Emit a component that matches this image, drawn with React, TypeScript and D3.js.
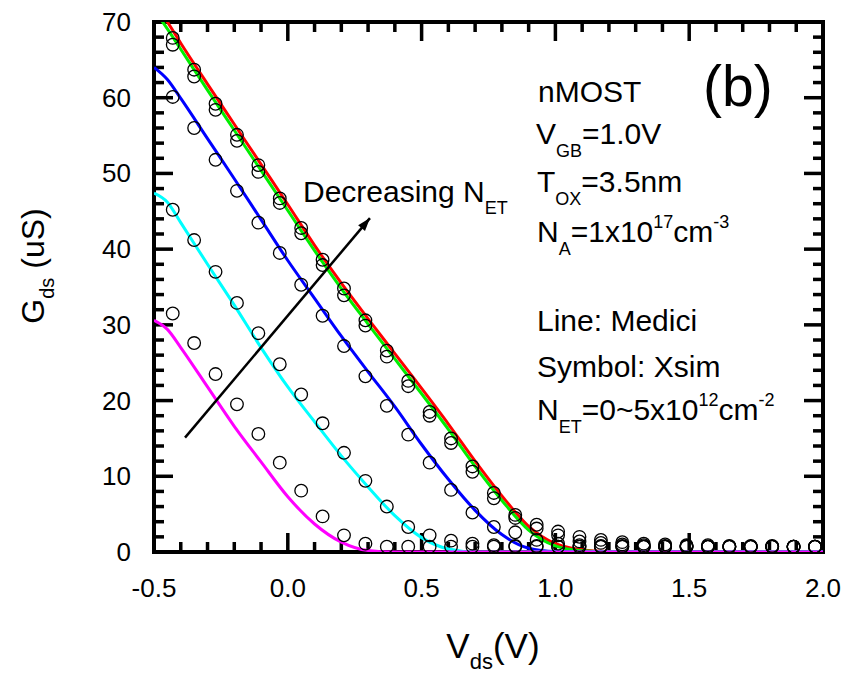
import React from "react";
import * as d3 from "d3";

// ---- data ----
const lineV = [-0.5, -0.45, -0.4, -0.3, -0.2, -0.1, 0.0, 0.1, 0.2, 0.3, 0.4, 0.5, 0.6, 0.7, 0.8, 0.9, 1.0, 1.1, 1.2, 1.3, 2.0];
const mediciRed = [72.5, 70.0, 67.2, 61.8, 56.5, 51.2, 45.9, 40.5, 35.5, 30.8, 26.2, 21.6, 16.9, 12.0, 7.4, 3.4, 1.1, 0.3, 0.05, 0, 0];
const mediciGreen = [71.6, 69.1, 66.4, 61.0, 55.7, 50.4, 45.1, 39.8, 34.8, 30.1, 25.5, 20.9, 16.2, 11.3, 6.8, 2.9, 0.8, 0.15, 0.02, 0, 0];
const mediciBlue = [64.0, 62.4, 59.9, 54.6, 49.3, 43.9, 38.5, 33.5, 28.5, 23.8, 19.2, 14.2, 9.6, 5.5, 2.3, 0.5, 0.05, 0, 0, 0, 0];
const mediciCyan = [47.4, 46.2, 43.5, 38.0, 32.6, 27.0, 21.8, 17.2, 12.7, 8.6, 4.8, 1.9, 0.4, 0, 0, 0, 0, 0, 0, 0, 0];
const mediciMagenta = [30.6, 29.4, 27.0, 21.8, 16.6, 11.9, 7.3, 3.7, 1.3, 0.2, 0, 0, 0, 0, 0, 0, 0, 0, 0, 0, 0];

const xsimV = [-0.43, -0.35, -0.27, -0.19, -0.11, -0.03, 0.05, 0.13, 0.21, 0.29, 0.37, 0.45, 0.53, 0.61, 0.69, 0.77, 0.85, 0.93, 1.01, 1.09, 1.17, 1.25, 1.33, 1.41, 1.49, 1.57, 1.65, 1.73, 1.81, 1.89, 1.97];
const xsimA = [67.9, 63.7, 59.2, 55.1, 51.1, 46.7, 42.8, 38.6, 34.8, 30.6, 26.6, 22.6, 18.5, 15.0, 11.3, 7.8, 4.9, 3.6, 2.7, 2.0, 1.6, 1.3, 1.1, 1.0, 0.9, 0.9, 0.8, 0.8, 0.8, 0.7, 0.7];
const xsimB = [67.0, 62.8, 58.4, 54.3, 50.2, 46.1, 42.1, 37.9, 33.9, 29.9, 25.8, 21.9, 18.0, 14.4, 10.6, 7.1, 4.5, 3.1, 2.2, 1.4, 1.2, 1.0, 0.9, 0.8, 0.8, 0.7, 0.7, 0.7, 0.7, 0.7, 0.7];
const xsimC = [60.1, 56.0, 51.8, 47.7, 43.5, 39.5, 35.3, 31.2, 27.2, 23.2, 19.3, 15.5, 11.8, 8.2, 5.2, 3.3, 2.6, 1.6, 1.1, 0.9, 0.8, 0.8, 0.7, 0.7, 0.7, 0.7, 0.7, 0.7, 0.7, 0.7, 0.7];
const xsimD = [45.2, 41.2, 37.0, 32.9, 28.9, 24.8, 20.8, 17.0, 13.1, 9.4, 6.0, 3.3, 2.2, 1.5, 1.1, 0.9, 0.8, 0.8, 0.7, 0.7, 0.7, 0.7, 0.7, 0.7, 0.7, 0.7, 0.7, 0.7, 0.7, 0.7, 0.7];
const xsimE = [31.5, 27.6, 23.5, 19.5, 15.6, 11.8, 8.1, 4.7, 2.2, 1.1, 0.7, 0.7, 0.7, 0.7, 0.7, 0.7, 0.7, 0.7, 0.7, 0.7, 0.7, 0.7, 0.7, 0.7, 0.7, 0.7, 0.7, 0.7, 0.7, 0.7, 0.7];

const xMajorTicks = [-0.5, 0.0, 0.5, 1.0, 1.5, 2.0];
const xMinorTicks = [-0.4, -0.3, -0.2, -0.1, 0.1, 0.2, 0.3, 0.4, 0.6, 0.7, 0.8, 0.9, 1.1, 1.2, 1.3, 1.4, 1.6, 1.7, 1.8, 1.9];
const xTickLabels = ["-0.5", "0.0", "0.5", "1.0", "1.5", "2.0"];
const yMajorTicks = [0, 10, 20, 30, 40, 50, 60, 70];
const yMinorTicks = [2, 4, 6, 8, 12, 14, 16, 18, 22, 24, 26, 28, 32, 34, 36, 38, 42, 44, 46, 48, 52, 54, 56, 58, 62, 64, 66, 68];

const arrowFrom = [-0.384, 15.1];
const arrowTo = [0.307, 44.1];

const lineColors = ["#ff0000", "#00ee00", "#0000ff", "#00ffff", "#ff00ff"];
const lineSeries = [mediciRed, mediciGreen, mediciBlue, mediciCyan, mediciMagenta];
const xsimSeries = [xsimA, xsimB, xsimC, xsimD, xsimE];

const FONT = "'Liberation Sans', Arial, Helvetica, sans-serif";

export default function App() {
  const x = d3.scaleLinear().domain([-0.5, 2.0]).range([154, 823]);
  const y = d3.scaleLinear().domain([0, 70]).range([552, 22]);
  const X0 = 154, X1 = 823, Y0 = 552, Y1 = 22;
  const MAJ = 19, MIN = 10, TW = 3.5;

  const curve = d3
    .line<number>()
    .x((_, i) => x(lineV[i]))
    .y((d) => y(d))
    .curve(d3.curveMonotoneX);

  return (
    <div style={{ position: "absolute", left: 0, top: 0 }}>
      <svg width={852} height={674} style={{ display: "block", background: "#fff" }}>
        <defs>
          <clipPath id="plotClip">
            <rect x={X0} y={Y1} width={X1 - X0} height={Y0 - Y1} />
          </clipPath>
        </defs>

        {/* frame */}
        <rect x={X0} y={Y1} width={X1 - X0} height={Y0 - Y1} fill="none" stroke="#000" strokeWidth={4} />

        {/* x ticks */}
        {xMajorTicks.map((v) => (
          <rect key={"xb" + v} x={x(v) - TW / 2} y={Y0 - MAJ} width={TW} height={MAJ} fill="#000" />
        ))}
        {xMajorTicks.map((v) => (
          <rect key={"xt" + v} x={x(v) - TW / 2} y={Y1} width={TW} height={MAJ} fill="#000" />
        ))}
        {xMinorTicks.map((v) => (
          <rect key={"xbn" + v} x={x(v) - TW / 2} y={Y0 - MIN} width={TW} height={MIN} fill="#000" />
        ))}
        {xMinorTicks.map((v) => (
          <rect key={"xtn" + v} x={x(v) - TW / 2} y={Y1} width={TW} height={MIN} fill="#000" />
        ))}
        {/* y ticks */}
        {yMajorTicks.map((v) => (
          <rect key={"yl" + v} x={X0} y={y(v) - TW / 2} width={MAJ} height={TW} fill="#000" />
        ))}
        {yMajorTicks.map((v) => (
          <rect key={"yr" + v} x={X1 - MAJ} y={y(v) - TW / 2} width={MAJ} height={TW} fill="#000" />
        ))}
        {yMinorTicks.map((v) => (
          <rect key={"yln" + v} x={X0} y={y(v) - TW / 2} width={MIN} height={TW} fill="#000" />
        ))}
        {yMinorTicks.map((v) => (
          <rect key={"yrn" + v} x={X1 - MIN} y={y(v) - TW / 2} width={MIN} height={TW} fill="#000" />
        ))}

        {/* Medici lines */}
        <g clipPath="url(#plotClip)">
          {lineSeries.map((vals, k) => (
            <path key={"ln" + k} d={curve(vals) || ""} fill="none" stroke={lineColors[k]} strokeWidth={3} />
          ))}
        </g>

        {/* Xsim symbols */}
        {xsimSeries.map((vals, k) =>
          vals.map((g, i) => (
            <circle key={"c" + k + "-" + i} cx={x(xsimV[i])} cy={y(g)} r={6.3} fill="none" stroke="#000" strokeWidth={1.3} />
          ))
        )}

        {/* arrow */}
        <line x1={x(arrowFrom[0])} y1={y(arrowFrom[1])} x2={x(arrowTo[0])} y2={y(arrowTo[1])} stroke="#000" strokeWidth={2.5} />
        <polygon
          points="0,0 -13,-4.5 -13,4.5"
          fill="#000"
          transform={`translate(${x(arrowTo[0])},${y(arrowTo[1])}) rotate(${(Math.atan2(y(arrowTo[1]) - y(arrowFrom[1]), x(arrowTo[0]) - x(arrowFrom[0])) * 180) / Math.PI})`}
        />

        {/* tick labels */}
        {xMajorTicks.map((v, i) => (
          <text key={"xl" + v} x={x(v)} y={597} textAnchor="middle" fontSize={26} fontFamily={FONT}>
            {xTickLabels[i]}
          </text>
        ))}
        {yMajorTicks.map((v) => (
          <text key={"ylab" + v} x={131} y={y(v) + 9} textAnchor="end" fontSize={26} fontFamily={FONT}>
            {v}
          </text>
        ))}

        {/* axis titles */}
        <text x={493} y={658} textAnchor="middle" fontSize={35} fontFamily={FONT}>
          V<tspan fontSize={22} dy={11}>ds</tspan>
          <tspan dy={-11}>(V)</tspan>
        </text>
        <text transform="translate(44,266) rotate(-90)" textAnchor="middle" fontSize={32} fontFamily={FONT}>
          G<tspan fontSize={20} dy={10}>ds</tspan>
          <tspan dy={-10}> (uS)</tspan>
        </text>

        {/* annotations */}
        <g fontSize={30} fontFamily={FONT} fill="#000">
          <text x={303} y={202}>
            Decreasing N<tspan fontSize={18} dy={12}>ET</tspan>
          </text>
          <text x={538} y={102}>nMOST</text>
          <text x={536} y={144}>
            V<tspan fontSize={18} dy={13}>GB</tspan>
            <tspan dy={-13}>=1.0V</tspan>
          </text>
          <text x={537} y={192}>
            T<tspan fontSize={18} dy={13}>OX</tspan>
            <tspan dy={-13}>=3.5nm</tspan>
          </text>
          <text x={537} y={242}>
            N<tspan fontSize={18} dy={13}>A</tspan>
            <tspan dy={-13}>=1x10</tspan>
            <tspan fontSize={18} dy={-14}>17</tspan>
            <tspan dy={14}>cm</tspan>
            <tspan fontSize={18} dy={-14}>-3</tspan>
          </text>
          <text x={537} y={331}>Line: Medici</text>
          <text x={537} y={377}>Symbol: Xsim</text>
          <text x={537} y={420}>
            N<tspan fontSize={18} dy={13}>ET</tspan>
            <tspan dy={-13}>=0~5x10</tspan>
            <tspan fontSize={18} dy={-14}>12</tspan>
            <tspan dy={14}>cm</tspan>
            <tspan fontSize={18} dy={-14}>-2</tspan>
          </text>
          <text x={703} y={106} fontSize={57}>
            (b)
          </text>
        </g>
      </svg>
    </div>
  );
}
